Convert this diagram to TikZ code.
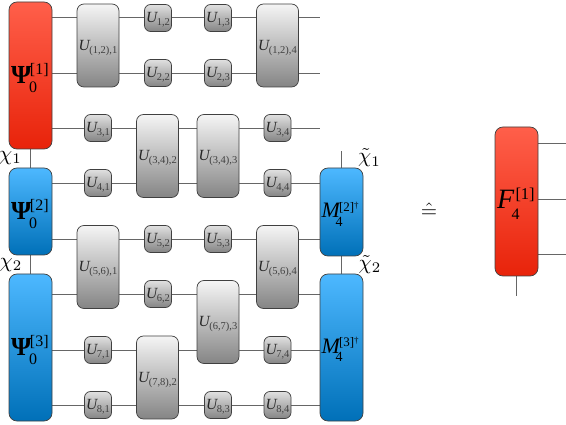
\documentclass[tikz,border=0pt]{standalone}
\usepackage{fontspec}
\setmainfont{Liberation Serif}
\usetikzlibrary{backgrounds}
\newcommand{\fs}[1]{\fontsize{#1}{#1}\selectfont}
\newcommand{\Ulab}[1]{\smash{\raisebox{-5pt}{{\fs{15.5}\itshape\color{black!85}U}\kern-.5pt\raisebox{-3pt}{\fs{10.5}\color{black!75}#1}}}}
% base, sup, sub, total width, baseline shift, sup x, sup raise, sub x, sub raise
\newcommand{\Blab}[9]{\makebox[#4][l]{\smash{\raisebox{#5}{\makebox[0pt][l]{#1}\makebox[0pt][l]{\hspace{#6}\raisebox{#7}{#2}}\makebox[0pt][l]{\hspace{#8}\raisebox{#9}{#3}}}}}}
\newcommand{\PsiLab}[1]{\Blab{\fs{26}\bfseries Ψ}{\fs{16}[#1]}{\fs{16}0}{39pt}{-8pt}{19pt}{9pt}{18pt}{-9.5pt}}
\newcommand{\MLab}[1]{\Blab{\fs{22}\itshape M}{\fs{13}[#1]\raisebox{3pt}{\fs{9}†}}{\fs{14}4}{40pt}{-6pt}{17.5pt}{6.5pt}{14pt}{-8.5pt}}
\definecolor{wirec}{HTML}{666666}
\definecolor{redt}{HTML}{FF5F4A}\definecolor{redb}{HTML}{E8230A}
\definecolor{bluet}{HTML}{4DB8FF}\definecolor{blueb}{HTML}{0070B8}
\tikzset{
  box/.style={draw=black!75,line width=.7pt,rounded corners=8pt,inner sep=0pt},
  redbox/.style={box,top color=redt,bottom color=redb,minimum width=43pt},
  bluebox/.style={box,top color=bluet,bottom color=blueb,minimum width=43pt},
  bigU/.style={box,top color=black!4,bottom color=black!48,minimum width=42pt,minimum height=83pt,rounded corners=7pt},
  smallU/.style={box,top color=black!12,bottom color=black!48,minimum width=27pt,minimum height=27pt,rounded corners=6pt},
  wire/.style={draw=wirec,line width=.8pt},
  sym/.style={inner sep=0pt}
}
\begin{document}
\begin{tikzpicture}[x=1pt,y=-1pt]
\useasboundingbox (0,0) rectangle (566,425);
\foreach \n/\y in {r1/17,r2/73,r3/128,r4/183,r5/239,r6/294,r7/350,r8/405}
  \coordinate (\n) at (0,\y);
% left column
\node[redbox,minimum height=147pt] (p1) at (30.5,75.5) {\PsiLab{1}};
\node[bluebox,minimum height=87pt] (p2) at (30.5,211.5) {\PsiLab{2}};
\node[bluebox,minimum height=147pt] (p3) at (30.5,347.5) {\PsiLab{3}};
% right column
\node[bluebox,minimum height=88pt] (m2) at (341.5,212) {\MLab{2}};
\node[bluebox,minimum height=147pt] (m3) at (341.5,347.5) {\MLab{3}};
% big gates
\node[bigU] (a1) at (98,45.5) {\Ulab{(1,2),1}};
\node[bigU] (a2) at (98,267) {\Ulab{(5,6),1}};
\node[bigU] (b1) at (157.5,156) {\Ulab{(3,4),2}};
\node[bigU] (b2) at (157.5,377.5) {\Ulab{(7,8),2}};
\node[bigU] (c1) at (218,156) {\Ulab{(3,4),3}};
\node[bigU] (c2) at (218,322) {\Ulab{(6,7),3}};
\node[bigU] (d1) at (277.5,45.5) {\Ulab{(1,2),4}};
\node[bigU] (d2) at (277.5,267) {\Ulab{(5,6),4}};
% small gates
\node[smallU] (u12) at (158,18) {\Ulab{1,2}};
\node[smallU] (u22) at (158,73) {\Ulab{2,2}};
\node[smallU] (u52) at (158,239) {\Ulab{5,2}};
\node[smallU] (u62) at (158,294) {\Ulab{6,2}};
\node[smallU] (u13) at (218,18) {\Ulab{1,3}};
\node[smallU] (u23) at (218,73) {\Ulab{2,3}};
\node[smallU] (u53) at (218,239) {\Ulab{5,3}};
\node[smallU] (u83) at (218,405) {\Ulab{8,3}};
\node[smallU] (u31) at (98,128) {\Ulab{3,1}};
\node[smallU] (u41) at (98,183) {\Ulab{4,1}};
\node[smallU] (u71) at (98,350) {\Ulab{7,1}};
\node[smallU] (u81) at (98,405) {\Ulab{8,1}};
\node[smallU] (u34) at (277.5,128) {\Ulab{3,4}};
\node[smallU] (u44) at (277.5,183) {\Ulab{4,4}};
\node[smallU] (u74) at (277.5,350) {\Ulab{7,4}};
\node[smallU] (u84) at (277.5,405) {\Ulab{8,4}};
% free ends
\coordinate (e1) at (320,17);
\coordinate (e2) at (320,73);
\coordinate (e3) at (320,128);
\coordinate (mtop) at (341.5,151);
% right part
\node[redbox,minimum height=149pt] (f) at (516.5,201.5) {\Blab{\fs{28}\itshape F}{\fs{16.5}[1]}{\fs{16}4}{39pt}{-7.5pt}{18.5pt}{9pt}{14.7pt}{-11pt}};
\coordinate (fb) at (516.5,296);
\coordinate (f1) at (566,143);
\coordinate (f2) at (566,199);
\coordinate (f3) at (566,254);
\node[sym] (eq) at (429,210.5) {\scalebox{2.1}{$\hat{=}$}};
% bond labels
\node[sym] (c1l) at (10.5,158) {\scalebox{2.1}{$\chi_1$}};
\node[sym] (c2l) at (11,265) {\scalebox{2.1}{$\chi_2$}};
\node[sym] (t1l) at (369.5,158) {\scalebox{2.1}{$\tilde\chi_1$}};
\node[sym] (t2l) at (370,264.5) {\scalebox{2.1}{$\tilde\chi_2$}};
\begin{scope}[on background layer]
\foreach \a/\b/\r in {
  p1/a1/r1,a1/u12/r1,u12/u13/r1,u13/d1/r1,d1/e1/r1,
  a1/u22/r2,u22/u23/r2,u23/d1/r2,d1/e2/r2,p1/a1/r2,
  p1/u31/r3,u31/b1/r3,b1/c1/r3,c1/u34/r3,u34/e3/r3,
  p2/u41/r4,u41/b1/r4,b1/c1/r4,c1/u44/r4,u44/m2/r4,
  p2/a2/r5,a2/u52/r5,u52/u53/r5,u53/d2/r5,d2/m2/r5,
  p3/a2/r6,a2/u62/r6,u62/c2/r6,c2/d2/r6,d2/m3/r6,
  p3/u71/r7,u71/b2/r7,b2/c2/r7,c2/u74/r7,u74/m3/r7,
  p3/u81/r8,u81/b2/r8,b2/u83/r8,u83/u84/r8,u84/m3/r8}
  \draw[wire] (\a |- \r) -- (\b |- \r);
\draw[wire] (p1) -- (p2);
\draw[wire] (p2) -- (p3);
\draw[wire] (m2) -- (m3);
\draw[wire] (m2) -- (mtop);
\draw[wire] (f) -- (fb);
\draw[wire] (f |- f1) -- (f1);
\draw[wire] (f |- f2) -- (f2);
\draw[wire] (f |- f3) -- (f3);
\end{scope}
\end{tikzpicture}
\end{document}
